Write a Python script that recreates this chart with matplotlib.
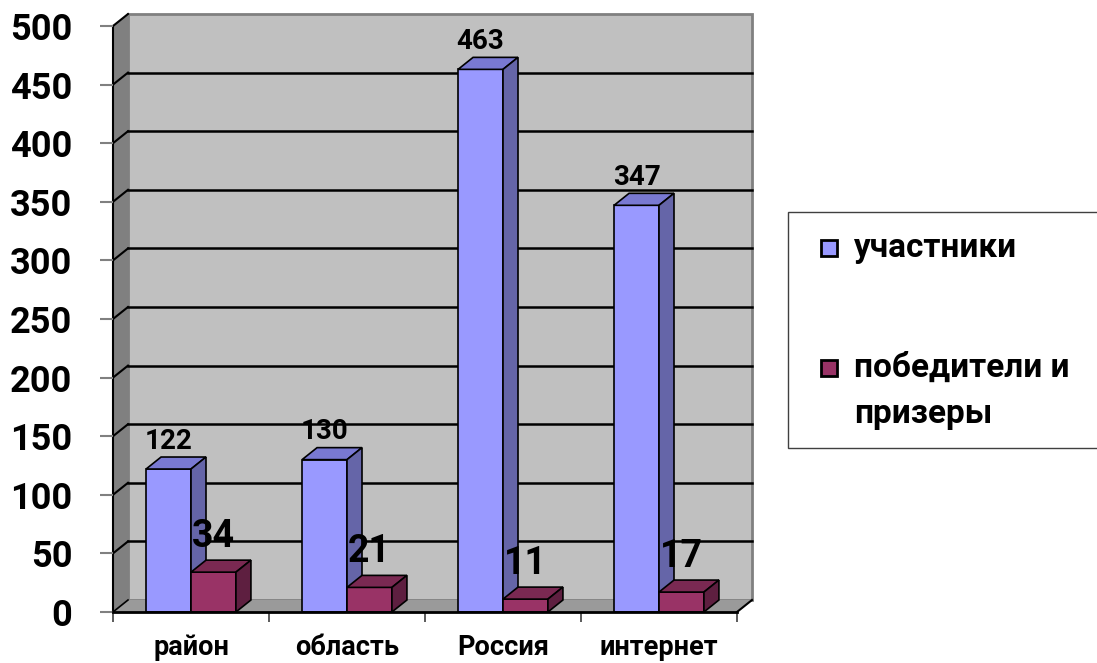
import matplotlib
matplotlib.use('Agg')
import matplotlib.pyplot as plt
from matplotlib.patches import Polygon, Rectangle

plt.rcParams['font.family'] = ['Roboto', 'DejaVu Sans']
plt.rcParams['font.weight'] = 'bold'

categories = ['район', 'область', 'Россия', 'интернет']
participants = [122, 130, 463, 347]
winners = [34, 21, 11, 17]
series_names = ['участники', 'победители и\nпризеры']
y_ticks = [0, 50, 100, 150, 200, 250, 300, 350, 400, 450, 500]

# colours: front, top, side
blue = ('#9999FF', '#7979D2', '#6565A8')
red = ('#993366', '#7A2952', '#5E1F40')

W, H = 1097, 663
fig = plt.figure(figsize=(W / 100, H / 100), dpi=100)
# front plane of the 3d box in pixels: x 113..737, y 26..612
ax = fig.add_axes([113 / W, (H - 612) / H, (737 - 113) / W, (612 - 26) / H])
ax.set_xlim(-0.5, 3.5)
ax.set_ylim(0, 500)
ax.patch.set_visible(False)

# depth offset (about 15 px right, 12 px up) in data units
dx = 15 / 156.0
dy = 12 * 500 / 586.0
x0, x1 = -0.5, 3.5

# walls and floor
ax.add_patch(Polygon([(x0 + dx, dy), (x1 + dx, dy), (x1 + dx, 500 + dy), (x0 + dx, 500 + dy)],
                     closed=True, fc='#C0C0C0', ec='#808080', lw=2, clip_on=False, zorder=0))
ax.add_patch(Polygon([(x0, 0), (x0, 500), (x0 + dx, 500 + dy), (x0 + dx, dy)],
                     closed=True, fc='#808080', ec='none', clip_on=False, zorder=0.5))
ax.add_patch(Polygon([(x0, 0), (x1, 0), (x1 + dx, dy), (x0 + dx, dy)],
                     closed=True, fc='#9A9A9A', ec='none', clip_on=False, zorder=0.5))
ax.plot([x1, x1 + dx], [0, dy], color='black', lw=1.5, clip_on=False, zorder=1)
ax.plot([x0, x0 + dx], [0, dy], color='black', lw=1.2, clip_on=False, zorder=1)

# gridlines on left wall and back wall
for v in y_ticks[1:]:
    ax.plot([x0, x0 + dx], [v, v + dy], color='black', lw=1.5, clip_on=False, zorder=1)
    if v < 500:
        ax.plot([x0 + dx, x1 + dx], [v + dy, v + dy], color='black', lw=1.8, clip_on=False, zorder=1)

w = 0.288
xs = list(range(len(categories)))


def draw_box(bars, vals, cols):
    for b, v in zip(bars, vals):
        a = b.get_x()
        c = a + b.get_width()
        ax.add_patch(Polygon([(a, v), (c, v), (c + dx, v + dy), (a + dx, v + dy)],
                             closed=True, fc=cols[1], ec='black', lw=1.2, clip_on=False, zorder=b.get_zorder()))
        ax.add_patch(Polygon([(c, 0), (c + dx, dy), (c + dx, v + dy), (c, v)],
                             closed=True, fc=cols[2], ec='black', lw=1.2, clip_on=False, zorder=b.get_zorder()))


for i in xs:
    b1 = ax.bar(i - w, participants[i], width=w, align='edge', color=blue[0],
                edgecolor='black', lw=1.2, zorder=2 + i)
    draw_box(b1, [participants[i]], blue)
    b2 = ax.bar(i, winners[i], width=w, align='edge', color=red[0],
                edgecolor='black', lw=1.2, zorder=2.5 + i)
    draw_box(b2, [winners[i]], red)

for i in xs:
    ax.annotate(str(participants[i]), (i - w / 2, participants[i]), xytext=(0, 28),
                textcoords='offset pixels', ha='center', va='center', fontsize=20, zorder=10)
    ax.annotate(str(winners[i]), (i + w / 2, winners[i]), xytext=(0, 36),
                textcoords='offset pixels', ha='center', va='center', fontsize=27, zorder=10)

# axes
for s in ['top', 'right']:
    ax.spines[s].set_visible(False)
ax.spines['left'].set_linewidth(1.5)
ax.spines['bottom'].set_linewidth(2)
ax.spines['left'].set_zorder(1.5)
ax.spines['bottom'].set_zorder(9)

ax.set_yticks(y_ticks)
ax.tick_params(axis='y', length=9.4, width=1.5, color='#808080', pad=20, labelsize=26)
ax.set_xticks(xs)
ax.set_xticklabels(categories)
ax.set_xticks([-0.5, 0.5, 1.5, 2.5, 3.5], minor=True)
ax.tick_params(axis='x', which='major', length=0, pad=16, labelsize=19.5)
ax.tick_params(axis='x', which='minor', length=7.5, width=1.2, color='#404040')

# legend box
fig.add_artist(Rectangle((788 / W, (H - 448) / H), (1110 - 788) / W, (448 - 212) / H,
                         transform=fig.transFigure, fc='white', ec='#404040', lw=1))
leg_y = [248, 391]
mark_y = [248, 368]
for name, col, ty, my in zip(series_names, [blue[0], red[0]], leg_y, mark_y):
    fig.add_artist(Rectangle((821 / W, (H - my - 8) / H), 16 / W, 16 / H,
                             transform=fig.transFigure, fc=col, ec='black', lw=2))
    fig.text(854 / W, (H - ty) / H, name, fontsize=24, va='center', ha='left', linespacing=1.6)

fig.savefig('out.png', dpi=100)
